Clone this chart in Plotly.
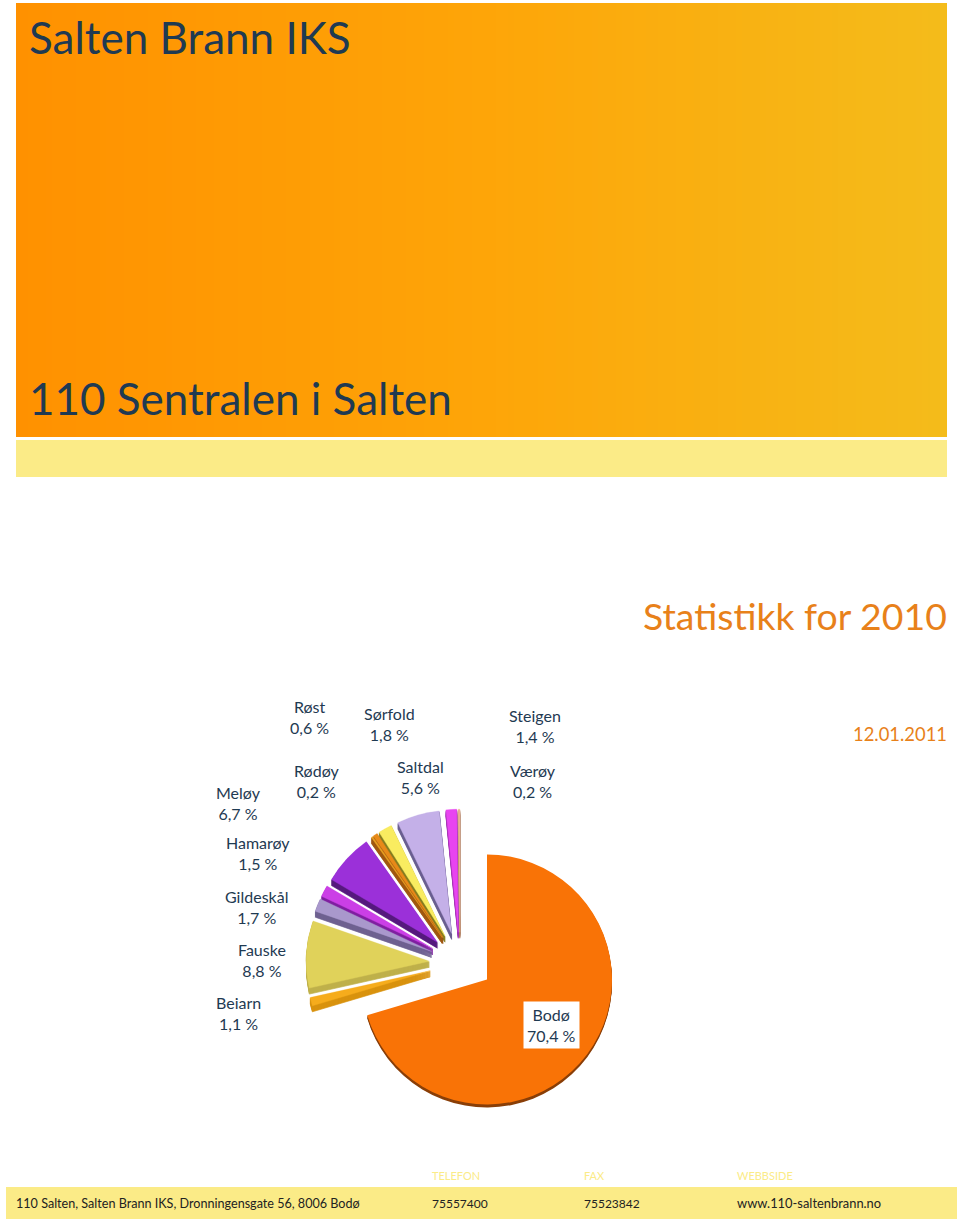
import plotly.graph_objects as go

W, H = 960, 1225

# --- data ---
kommuner = ["Bodø", "Beiarn", "Fauske", "Gildeskål", "Hamarøy", "Meløy",
            "Rødøy", "Røst", "Sørfold", "Saltdal", "Steigen", "Værøy"]
andel = [70.4, 1.1, 8.8, 1.7, 1.5, 6.7, 0.2, 0.6, 1.8, 5.6, 1.4, 0.2]
farger = ["#F97306", "#F6AC1C", "#E0D25A", "#A998CC", "#CB3FE6", "#9B30D9",
          "#E8A020", "#E88A18", "#F9EC60", "#C4B0E8", "#E844F0", "#F2B898"]
mork = ["#8A3F08", "#D9920E", "#BFB04A", "#6F6190", "#8020A0", "#561A7E",
        "#A05810", "#9A5010", "#857C20", "#6A5F90", "#A030B0", "#B08060"]

# label centres in page pixels, in the order of kommuner
etikett_pos = [(551, 1025), (238, 1013), (262, 960), (256, 907), (258, 853), (238, 803),
               (316, 781), (309, 717), (389, 724), (420, 777), (535, 726), (533, 781)]

FONT = "Lato"
NAVY = "#1F3A52"
ORANGE = "#E8811A"


def px(x):
    return x / W


def py(y):
    return 1 - y / H


def rect(x0, y0, x1, y1, color):
    return dict(type="rect", xref="paper", yref="paper", x0=px(x0), x1=px(x1),
                y0=py(y1), y1=py(y0), fillcolor=color, line_width=0, layer="below")


def text(x, y, s, size, color, anchor="left", **kw):
    return dict(xref="paper", yref="paper", x=px(x), y=py(y), text=s, showarrow=False,
                xanchor=anchor, yanchor="middle", align="center" if anchor == "center" else anchor,
                font=dict(family=FONT, size=size, color=color), **kw)


def lerp(a, b, t):
    return tuple(a[i] + (b[i] - a[i]) * t for i in range(3))


def gradient_color(t):
    stops = [(0.0, (255, 145, 0)), (0.5, (254, 165, 8)), (1.0, (244, 188, 27))]
    for (t0, c0), (t1, c1) in zip(stops, stops[1:]):
        if t <= t1:
            c = lerp(c0, c1, (t - t0) / (t1 - t0))
            return "rgb(%d,%d,%d)" % tuple(round(v) for v in c)
    return "rgb(244,188,27)"


shapes = []
X0, X1 = 16, 947
for x in range(X0, X1, 6):
    shapes.append(rect(x, 3, min(x + 6, X1), 437, gradient_color((x - X0) / (X1 - X0))))
shapes.append(rect(16, 440, 947, 477, "#FBEB87"))
shapes.append(rect(6, 1187, 957, 1219, "#FBEB87"))

TRANSP = "rgba(0,0,0,0)"


def pie(cx, cy, radius, pull, colors, edge=0.0):
    half = radius * (1 + max(pull))
    return go.Pie(
        labels=kommuner, values=andel, sort=False, direction="clockwise", rotation=0,
        pull=pull, textinfo="none", hoverinfo="skip", showlegend=False,
        marker=dict(colors=colors, line=dict(width=edge, color=colors)),
        domain=dict(x=[px(cx - half), px(cx + half)], y=[py(cy + half), py(cy - half)]),
    )


R_BODO = 125
R_REST = 123
# Bodø keeps its place, the others are pulled away from a common centre
pull_bodo = [0.0] * len(andel)
pull_rest = [0.0] + [0.25] * (len(andel) - 1)
kun_bodo = lambda c: [c[0]] + [TRANSP] * (len(c) - 1)
uten_bodo = lambda c: [TRANSP] + list(c[1:])

traces = []
for d in (6, 5, 4, 3, 2, 1):
    traces.append(pie(460, 963 + d, R_REST, pull_rest, uten_bodo(mork), edge=0.7))
traces.append(pie(460, 963, R_REST, pull_rest, uten_bodo(farger), edge=0.4))
for d in (3, 2, 1):
    traces.append(pie(487, 979.5 + d, R_BODO, pull_bodo, kun_bodo(mork)))
traces.append(pie(487, 979.5, R_BODO, pull_bodo, kun_bodo(farger)))

annotations = [
    text(27, 37, "Salten Brann IKS", 44, NAVY),
    text(27, 398, "110 Sentralen i Salten", 44, NAVY),
    text(949, 615, "Statistikk for 2010", 37.4, ORANGE, "right"),
    text(949, 734, "12.01.2011", 18.4, ORANGE, "right"),
    text(14, 1203, "110 Salten, Salten Brann IKS, Dronningensgate 56, 8006 Bodø", 12.6, "#222222"),
    text(430, 1175, "TELEFON", 11, "#FBEB87"),
    text(582, 1175, "FAX", 11, "#FBEB87"),
    text(735, 1175, "WEBBSIDE", 11, "#FBEB87"),
    text(430, 1203, "75557400", 12, "#222222"),
    text(582, 1203, "75523842", 12, "#222222"),
    text(735, 1203, "www.110-saltenbrann.no", 12.9, "#222222"),
]
for navn, verdi, (x, y) in zip(kommuner, andel, etikett_pos):
    kw = dict(bgcolor="#FFFFFF", borderpad=3) if navn == "Bodø" else {}
    annotations.append(text(x, y, f"{navn}<br>{str(verdi).replace('.', ',')} %", 16, NAVY, "center", **kw))

fig = go.Figure(traces)
fig.update_layout(
    width=W, height=H, autosize=False,
    margin=dict(l=0, r=0, t=0, b=0),
    paper_bgcolor="#FFFFFF", plot_bgcolor="#FFFFFF",
    shapes=shapes, annotations=annotations,
)
fig.write_html("out.html", config={"displayModeBar": False},
               post_script="document.body.style.margin='0';")
